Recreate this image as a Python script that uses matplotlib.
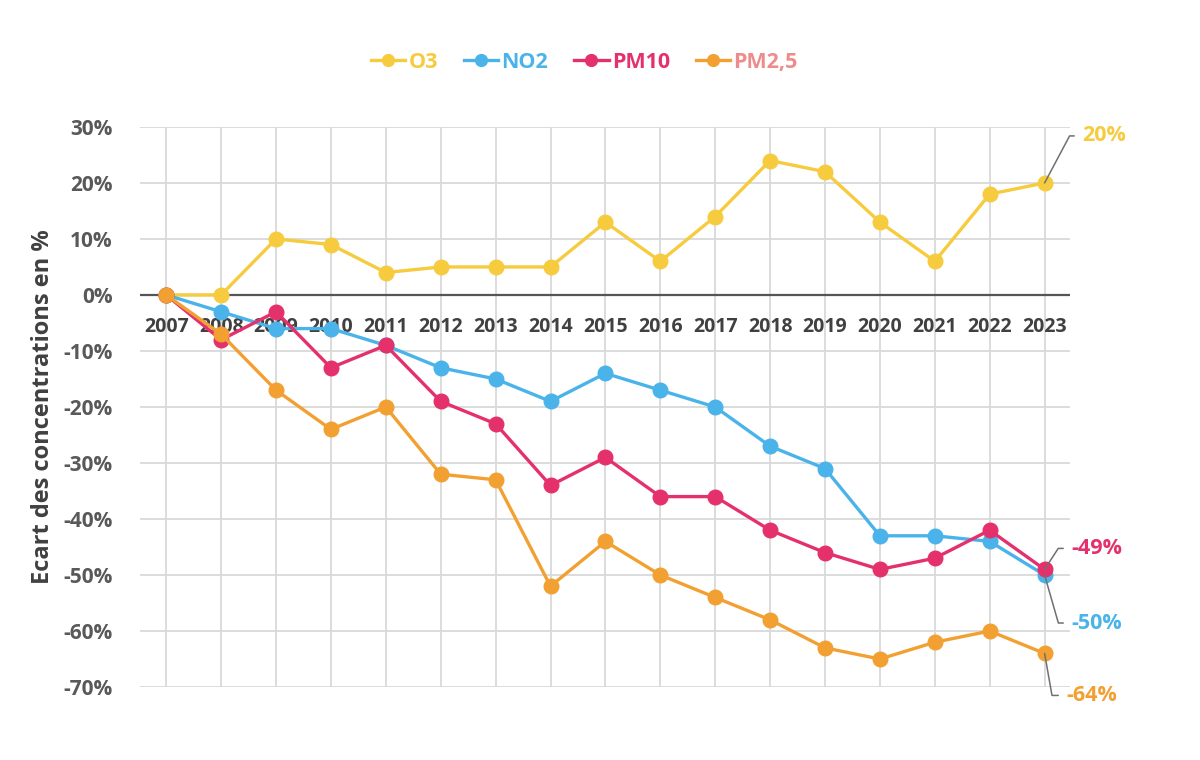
import matplotlib
matplotlib.use('Agg')
import matplotlib.pyplot as plt
from matplotlib.lines import Line2D

plt.rcParams['font.family'] = ['Open Sans', 'DejaVu Sans']

years = list(range(2007, 2024))
o3 = [0, 0, 10, 9, 4, 5, 5, 5, 13, 6, 14, 24, 22, 13, 6, 18, 20]
no2 = [0, -3, -6, -6, -9, -13, -15, -19, -14, -17, -20, -27, -31, -43, -43, -44, -50]
pm10 = [0, -8, -3, -13, -9, -19, -23, -34, -29, -36, -36, -42, -46, -49, -47, -42, -49]
pm25 = [0, -7, -17, -24, -20, -32, -33, -52, -44, -50, -54, -58, -63, -65, -62, -60, -64]

names = ['O3', 'NO2', 'PM10', 'PM2,5']
series = [o3, no2, pm10, pm25]
colors = ['#F6CB3E', '#4AB3EA', '#E5316B', '#F2A032']
legend_text_colors = ['#F6CB3E', '#4AB3EA', '#E5316B', '#EE8C8C']
yticks = list(range(-70, 31, 10))

# end labels: series index, offset in pixels (dx, dy), leader angle
end_labels = [(0, (38, 47), 62), (2, (27, 21), 57), (1, (27, -48), -74), (3, (22, -42), -80)]

fig = plt.figure(figsize=(12, 7.6), dpi=100)
ax = fig.add_axes([0.117, 0.096, 0.775, 0.737])

for x in years:
    ax.axvline(x, color='#D9D9D9', lw=1.3, zorder=0)
for y in yticks:
    ax.axhline(y, color='#D9D9D9', lw=1.3, zorder=0)
ax.axhline(0, color='#555555', lw=1.6, zorder=1)

# year labels sit just under the zero line
for x in years:
    ax.text(x, -5.7, str(x), ha='center', va='center', fontsize=14,
            fontweight='bold', color='#404040', zorder=2)

for name, vals, c in zip(names, series, colors):
    ax.plot(years, vals, color=c, lw=2.4, marker='o', ms=10.5, label=name, zorder=3)

for idx, (dx, dy), ang in end_labels:
    v = series[idx][-1]
    ax.annotate(f'{v}%', xy=(years[-1], v), xytext=(dx, dy), textcoords='offset pixels',
                ha='left', va='center', fontsize=15.5, fontweight='bold', color=colors[idx],
                annotation_clip=False, zorder=4,
                arrowprops=dict(arrowstyle='-', color='#707070', lw=1.1, shrinkA=4, shrinkB=0,
                                connectionstyle=f'angle,angleA=0,angleB={ang},rad=0'))

ax.set_xlim(2006.53, 2023.47)
ax.set_ylim(-70, 30)
ax.set_yticks(yticks)
ax.set_yticklabels([f'{t}%' for t in yticks], fontsize=15, fontweight='bold', color='#595959')
ax.set_xticks([])
ax.tick_params(axis='y', length=0, pad=20)
for s in ax.spines.values():
    s.set_visible(False)
ax.set_ylabel('Ecart des concentrations en %', fontsize=17, fontweight='bold',
              color='#404040', labelpad=6)

handles = [Line2D([], [], color=c, lw=2.4, marker='o', ms=8.5) for c in colors]
leg = fig.legend(handles, names, loc='center', bbox_to_anchor=(0.487, 0.918), ncol=4,
                 frameon=False, handlelength=1.6, handletextpad=0.15, columnspacing=1.2,
                 prop={'size': 15.5, 'weight': 'bold'})
for t, c in zip(leg.get_texts(), legend_text_colors):
    t.set_color(c)

fig.savefig('out.png', dpi=100)
